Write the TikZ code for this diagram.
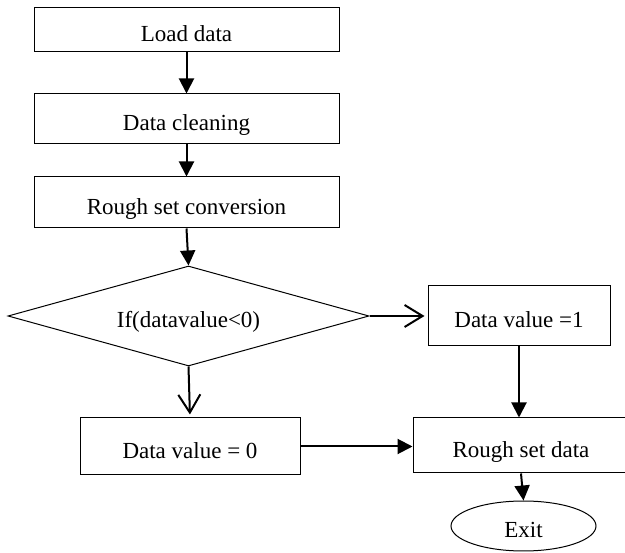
\documentclass[tikz,border=0pt]{standalone}
\usepackage{fontspec}
\setmainfont{Liberation Serif}
\usetikzlibrary{shapes.geometric,arrows.meta}
\begin{document}
\begin{tikzpicture}[x=1pt,y=-1pt,
  lbl/.style={font=\fontsize{23}{28}\selectfont,text height=24pt,text depth=0pt},
  box/.style={draw,line width=1pt,inner sep=0pt,lbl},
  flow/.style={line width=2pt,-{Triangle[length=15pt,width=15pt]}},
  openflow/.style={line width=2pt,-{Straight Barb[length=18pt,width=22pt]},shorten >=3pt}]
\useasboundingbox (0,0) rectangle (625,553);
\node[box,minimum width=305pt,minimum height=44pt] (b1) at (186.5,30) {Load data};
\node[box,minimum width=305pt,minimum height=50pt] (b2) at (186.5,119) {Data cleaning};
\node[box,minimum width=305pt,minimum height=51pt] (b3) at (186.5,202.5) {Rough set conversion};
\node[draw,line width=1pt,diamond,aspect=3.61,minimum width=361pt,minimum height=100pt,inner sep=0pt,lbl] (d) at (188.5,316) {If(datavalue<0)};
\node[box,minimum width=182pt,minimum height=60pt] (v1) at (519,316) {Data value =1};
\node[box,minimum width=220pt,minimum height=57pt] (v0) at (190,446.5) {Data value = 0};
\node[box,minimum width=216pt,minimum height=55pt] (r) at (521,445.5) {Rough set data};
\node[draw,line width=1pt,ellipse,minimum width=145pt,minimum height=50pt,inner sep=0pt,lbl] (e) at (523.5,526) {Exit};
\draw[flow] (b1.south) -- (b2.north);
\draw[flow] (b2.south) -- (b3.north);
\draw[flow] (b3.south) -- (d.north);
\draw[openflow] (d.east) -- (v1.west);
\draw[openflow] (d.south) -- (v0.north);
\draw[flow] (v1.south) -- (v1.south |- r.north);
\draw[flow] (v0.east) -- (v0.east -| r.west);
\draw[flow] (r.south) -- (e.north);
\end{tikzpicture}
\end{document}
